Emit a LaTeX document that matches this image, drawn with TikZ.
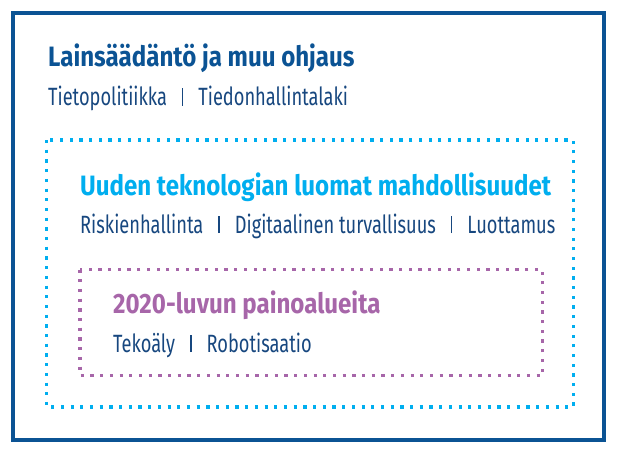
\documentclass[tikz,border=0pt]{standalone}
\usepackage{fontspec}
\setmainfont{Fira Sans}[FakeStretch=0.73]
\newfontfamily\headfont{Fira Sans}[FakeStretch=0.86]
\usepackage{tikz}
\usetikzlibrary{positioning}
\usepackage{xcolor}
\definecolor{lawblue}{HTML}{0B5394}
\definecolor{textblue}{HTML}{17477F}
\definecolor{techcyan}{HTML}{00AEEF}
\definecolor{focuspurple}{HTML}{A766A9}
\newcommand{\kwbar}{\hspace{0.6em}\rule{1.5pt}{0.69em}\hspace{0.6em}}

\begin{document}
\begin{tikzpicture}[x=1pt, y=-1pt]
    \tikzset{
        outerframe/.style={draw=lawblue, line width=4pt},
        dotframe/.style={line width=3.2pt, dash pattern=on 3.2pt off 6.5pt},
        heading/.style={anchor=base west, inner sep=0pt, font=\fontsize{28}{30}\selectfont\headfont\bfseries},
        keywords/.style={anchor=base west, inner sep=0pt, text=textblue, font=\fontsize{25}{27}\selectfont}
    }
    \useasboundingbox (0,0) rectangle (617,453);

    % frames
    \draw[outerframe] (13,12.5) rectangle (604,440);
    \draw[dotframe, draw=techcyan] (46.5,140) rectangle (573.5,407);
    \draw[dotframe, draw=focuspurple] (80,269.5) rectangle (542.5,375.5);

    % texts
    \node[heading, text=lawblue] (lawtitle) at (48,66) {Lainsäädäntö ja muu ohjaus};
    \node[keywords] (lawitems) at (48,105.5) {Tietopolitiikka\kwbar Tiedonhallintalaki};

    \node[heading, text=techcyan] (techtitle) at (80,195) {Uuden teknologian luomat mahdollisuudet};
    \node[keywords] (techitems) at (80,233) {Riskienhallinta\kwbar Digitaalinen turvallisuus\kwbar Luottamus};

    \node[heading, text=focuspurple] (focustitle) at (113,313) {2020-luvun painoalueita};
    \node[keywords] (focusitems) at (113,352) {Tekoäly\kwbar Robotisaatio};
\end{tikzpicture}
\end{document}
